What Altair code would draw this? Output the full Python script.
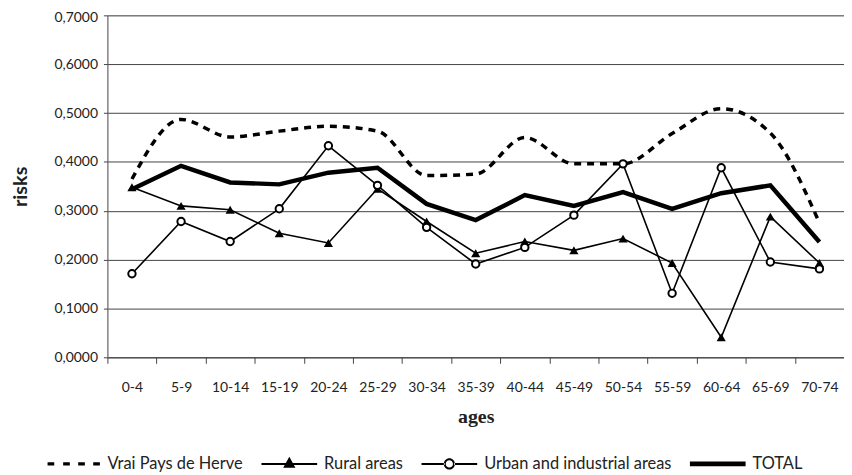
import altair as alt
import pandas as pd

ages = ["0-4", "5-9", "10-14", "15-19", "20-24", "25-29", "30-34", "35-39",
        "40-44", "45-49", "50-54", "55-59", "60-64", "65-69", "70-74"]
series = ["Vrai Pays de Herve", "Rural areas", "Urban and industrial areas", "TOTAL"]

vrai = [0.365, 0.487, 0.451, 0.463, 0.473, 0.463, 0.372, 0.375, 0.450, 0.396, 0.396, 0.458, 0.509, 0.459, 0.275]
rural = [0.348, 0.310, 0.302, 0.254, 0.234, 0.345, 0.278, 0.213, 0.237, 0.219, 0.243, 0.193, 0.041, 0.288, 0.193]
urban = [0.171, 0.278, 0.237, 0.304, 0.433, 0.352, 0.266, 0.191, 0.225, 0.291, 0.396, 0.131, 0.388, 0.195, 0.181]
total = [0.344, 0.392, 0.358, 0.354, 0.378, 0.388, 0.314, 0.281, 0.332, 0.310, 0.338, 0.304, 0.336, 0.352, 0.236]

y_ticks = [0.0, 0.1, 0.2, 0.3, 0.4, 0.5, 0.6, 0.7]

rows = []
for name, vals in zip(series, [vrai, rural, urban, total]):
    for a, v in zip(ages, vals):
        rows.append({"age": a, "series": name, "risk": v})
df = pd.DataFrame(rows)

FONT = "Lato"

x_enc = alt.X("age:N", sort=ages, scale=alt.Scale(paddingInner=0, paddingOuter=0),
              axis=alt.Axis(title="ages", tickBand="extent", labelAngle=0,
                            labelFont=FONT, labelFontSize=14, labelColor="#222",
                            labelPadding=17, tickSize=6, tickColor="#444",
                            domainColor="#444", titleFont="Liberation Serif",
                            titleFontSize=20, titleFontWeight="bold", titleColor="#222",
                            titlePadding=13, grid=False))
y_enc = alt.Y("risk:Q", scale=alt.Scale(domain=[0, 0.7], nice=False),
              axis=alt.Axis(title="risks", values=y_ticks,
                            labelExpr="replace(format(datum.value, '.4f'), '.', ',')",
                            labelFont=FONT, labelFontSize=14, labelColor="#222",
                            labelPadding=6, tickSize=4, tickColor="#444",
                            labelOffset={"condition": {"test": "datum.value >= 0.69", "value": 2},
                                         "value": 0},
                            domainColor="#555", gridColor="#444", gridWidth=1,
                            titleFont=FONT, titleFontSize=20, titleFontWeight="bold",
                            titleColor="#222", titlePadding=24))
x_plain = alt.X("age:N", sort=ages)
y_plain = alt.Y("risk:Q")

base = alt.Chart(df)

def sub(i):
    return base.transform_filter(alt.datum.series == series[i])

dashed = sub(0).mark_line(
    color="black", strokeWidth=3.5, strokeDash=[7, 6], interpolate="monotone"
).encode(x=x_enc, y=y_enc)

rural_line = sub(1).mark_line(color="black", strokeWidth=1.6).encode(x=x_plain, y=y_plain)
urban_line = sub(2).mark_line(color="black", strokeWidth=1.6).encode(x=x_plain, y=y_plain)
rural_pts = sub(1).mark_point(
    shape="triangle-up", filled=True, color="black", size=85, opacity=1
).encode(x=x_plain, y=y_plain)
urban_pts = sub(2).mark_point(
    shape="circle", filled=False, fill="white", fillOpacity=1, stroke="black",
    strokeWidth=2, size=55, opacity=1
).encode(x=x_plain, y=y_plain)
total_line = sub(3).mark_line(color="black", strokeWidth=4.5).encode(x=x_plain, y=y_plain)

# legend symbols: line + marker drawn as custom paths
def rect(x0, x1, h):
    return f"M{x0},{-h}H{x1}V{h}H{x0}Z"

sym_dash = " ".join(rect(s, s + 0.24, 0.06) for s in [-0.9, -0.34, 0.2, 0.74])
sym_rural = rect(-1, 1, 0.035) + " M0,-0.26L0.22,0.14L-0.22,0.14Z"
sym_urban = (rect(-1, -0.17, 0.035) + " " + rect(0.17, 1, 0.035) +
             " M0.2,0A0.2,0.2,0,1,0,-0.2,0A0.2,0.2,0,1,0,0.2,0Z"
             " M0.13,0A0.13,0.13,0,1,1,-0.13,0A0.13,0.13,0,1,1,0.13,0Z")
sym_total = rect(-1, 1, 0.085)

legend_layer = base.transform_filter("false").mark_point(
    filled=True, color="black", strokeWidth=0
).encode(
    x=x_plain, y=y_plain,
    shape=alt.Shape("series:N", scale=alt.Scale(domain=series,
                    range=[sym_dash, sym_rural, sym_urban, sym_total]),
                    legend=alt.Legend(title=None, orient="none", direction="horizontal",
                                      legendX=-63, legendY=423, symbolSize=3136,
                                      symbolFillColor="black", symbolStrokeWidth=0,
                                      symbolOpacity=1, labelFont=FONT, labelFontSize=16.5,
                                      labelColor="#222", labelOffset=7, columnPadding=18,
                                      labelLimit=400))
)

chart = alt.layer(dashed, rural_line, urban_line, total_line, rural_pts, urban_pts,
                  legend_layer).properties(
    width=741, height=344,
    autosize=alt.AutoSizeParams(type="none"),
    padding={"left": 100, "top": 6, "right": 0, "bottom": 117},
).configure_view(stroke="#999", strokeWidth=1.5).configure(background="white")

chart.save("out.html", embed_options={"renderer": "svg", "actions": False})
